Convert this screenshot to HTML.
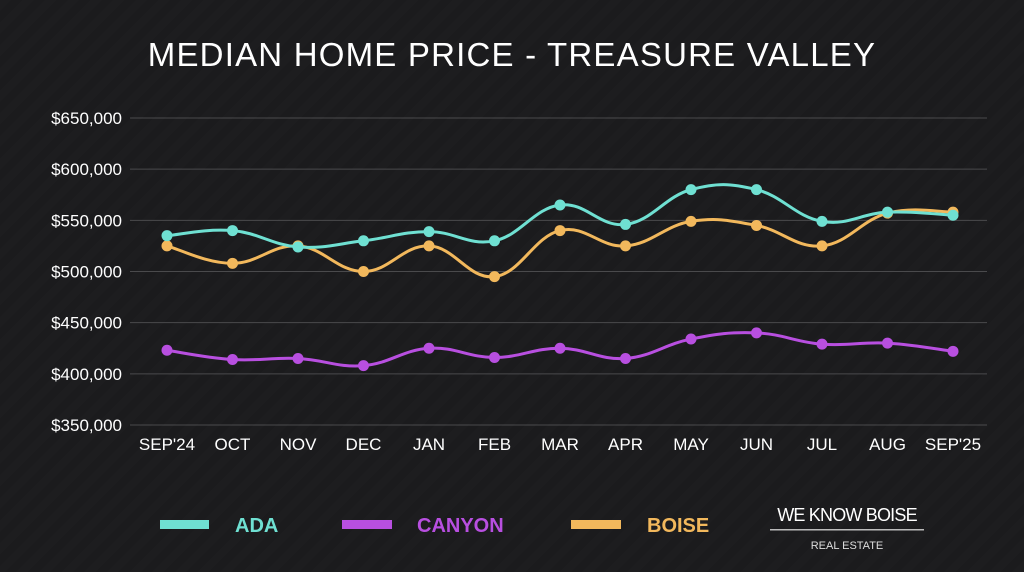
<!DOCTYPE html>
<html><head><meta charset="utf-8"><style>
html,body{margin:0;padding:0;width:1024px;height:572px;overflow:hidden;background:#1b1b1d;font-family:"Liberation Sans",sans-serif;}
svg{display:block}
</style></head><body>
<svg id="chart" width="1024" height="572" xmlns="http://www.w3.org/2000/svg">
<defs>
<pattern id="stripes" width="16" height="16" patternUnits="userSpaceOnUse" patternTransform="rotate(45)">
<rect width="16" height="16" fill="#1b1b1d"/><rect width="8" height="16" fill="#1d1d1f"/>
</pattern>
</defs>
<rect width="1024" height="572" fill="url(#stripes)"/>
<text x="512" y="66" text-anchor="middle" fill="#ffffff" font-size="33" letter-spacing="1.2">MEDIAN HOME PRICE - TREASURE VALLEY</text>
<g id="grid"></g><g id="yticks"></g><g id="xticks"></g><g id="series"></g>
<g>
<rect x="160" y="520" width="49" height="9" fill="#6fe0d2"/>
<text x="235" y="532" fill="#6fe0d2" font-size="20" font-weight="bold">ADA</text>
<rect x="342" y="520" width="50" height="9" fill="#b84fe0"/>
<text x="417" y="532" fill="#b84fe0" font-size="20" font-weight="bold">CANYON</text>
<rect x="571" y="520" width="50" height="9" fill="#f2b85c"/>
<text x="647" y="532" fill="#f2b85c" font-size="20" font-weight="bold">BOISE</text>
</g>
<g>
<text x="847" y="521" text-anchor="middle" fill="#fff" font-size="18" letter-spacing="-0.8">WE KNOW BOISE</text>
<rect x="770" y="529" width="154" height="1.5" fill="#bbb"/>
<text x="847" y="549" text-anchor="middle" fill="#ddd" font-size="11">REAL ESTATE</text>
</g>
</svg>
<script>
const categories=["SEP'24","OCT","NOV","DEC","JAN","FEB","MAR","APR","MAY","JUN","JUL","AUG","SEP'25"];
const adaValues=[535,540,524,530,539,530,565,546,580,580,549,558,555];
const canyonValues=[423,414,415,408,425,416,425,415,434,440,429,430,422];
const boiseValues=[525,508,525,500,525,495,540,525,549,545,525,557,558];
const yTickValues=[350,400,450,500,550,600,650];
const yTickLabels=["$350,000","$400,000","$450,000","$500,000","$550,000","$600,000","$650,000"];
const NS="http://www.w3.org/2000/svg";
const x0=167,x1=953,yTop=118,yBot=425,vMin=350,vMax=650;
function xs(i){return x0+(x1-x0)*i/(categories.length-1);}
function ys(v){return yBot-(v-vMin)/(vMax-vMin)*(yBot-yTop);}
function mk(t,a,p){const e=document.createElementNS(NS,t);for(const k in a)e.setAttribute(k,a[k]);p.appendChild(e);return e;}
const grid=document.getElementById('grid'),yt=document.getElementById('yticks'),xt=document.getElementById('xticks'),sg=document.getElementById('series');
yTickValues.forEach((v,i)=>{
const l=mk('line',{x1:130,x2:987,y1:ys(v),y2:ys(v),stroke:'#4a4a4c','stroke-width':1},grid);


const t=mk('text',{x:122,y:ys(v)+6,'text-anchor':'end',fill:'#fff','font-size':17},yt);


t.textContent=yTickLabels[i];
});
categories.forEach((c,i)=>{
const t=mk('text',{x:xs(i),y:450,'text-anchor':'middle',fill:'#fff','font-size':17},xt);


t.textContent=c;
});
function path(vals){
const p=vals.map((v,i)=>[xs(i),ys(v)]);let d='M'+p[0][0]+','+p[0][1];
for(let i=0;i<p.length-1;i++){const a=p[Math.max(0,i-1)],b=p[i],c=p[i+1],e=p[Math.min(p.length-1,i+2)];const k=0.2;
d+=' C'+(b[0]+(c[0]-a[0])*k)+','+(b[1]+(c[1]-a[1])*k)+' '+(c[0]-(e[0]-b[0])*k)+','+(c[1]-(e[1]-b[1])*k)+' '+c[0]+','+c[1];}
return d;}
[["canyon",canyonValues,"#b84fe0"],["boise",boiseValues,"#f2b85c"],["ada",adaValues,"#6fe0d2"]].forEach(([n,vals,col])=>{
const g=mk('g',{},sg);


mk('path',{d:path(vals),fill:'none',stroke:col,'stroke-width':3},g);
vals.forEach((v,i)=>{const c=mk('circle',{cx:xs(i),cy:ys(v),r:5.5,fill:col},g);

});
});
</script>
</body></html>
